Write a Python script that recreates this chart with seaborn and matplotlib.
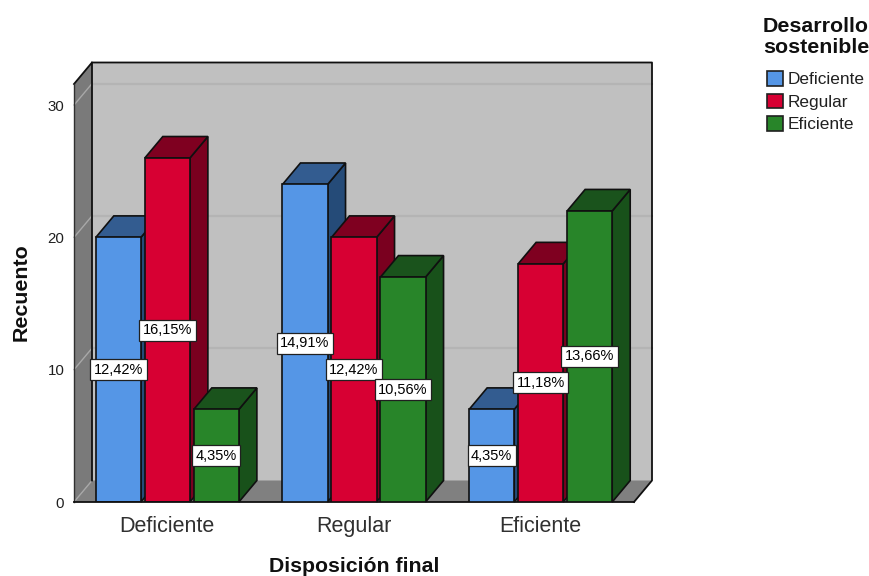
import matplotlib
matplotlib.use("Agg")
import matplotlib.pyplot as plt
from matplotlib.patches import Patch, Polygon
import pandas as pd
import seaborn as sns

categories = ["Deficiente", "Regular", "Eficiente"]
levels = ["Deficiente", "Regular", "Eficiente"]
counts_deficiente = [20, 24, 7]
counts_regular = [26, 20, 18]
counts_eficiente = [7, 17, 22]
pct_deficiente = ["12,42%", "14,91%", "4,35%"]
pct_regular = ["16,15%", "12,42%", "11,18%"]
pct_eficiente = ["4,35%", "10,56%", "13,66%"]
y_ticks = [0, 10, 20, 30]

front_colors = ["#5596E6", "#D70033", "#288529"]
side_colors = ["#254B78", "#7A001F", "#18511A"]
top_colors = ["#335C90", "#7F0020", "#1A531C"]
WALL = "#C0C0C0"
SIDE_WALL = "#7A7A7A"
FLOOR = "#808080"

W, H = 869, 576
sns.set_theme(style="white")
plt.rcParams["font.family"] = ["Liberation Sans", "DejaVu Sans"]

fig = plt.figure(figsize=(W / 100, H / 100), dpi=100)
ax = fig.add_axes([74 / W, 1 - 502 / H, 560 / W, 418 / H])

rows = []
for level, values in zip(levels, [counts_deficiente, counts_regular, counts_eficiente]):
    for cat, value in zip(categories, values):
        rows.append({"Disposición final": cat, "Desarrollo sostenible": level, "Recuento": value})
df = pd.DataFrame(rows)

sns.barplot(
    data=df, x="Disposición final", y="Recuento", hue="Desarrollo sostenible",
    order=categories, hue_order=levels, palette=front_colors,
    width=0.7875, gap=0.08, saturation=1, legend=False,
    edgecolor="#101010", linewidth=1.2, ax=ax,
)
ax.set_xlim(-0.5, 2.5)
ax.set_ylim(0, 418 / 13.23)
ax.patch.set_visible(False)
for side in ["top", "left", "right"]:
    ax.spines[side].set_visible(False)
ax.spines["bottom"].set_color("#101010")
ax.spines["bottom"].set_linewidth(1.3)
ax.spines["bottom"].set_zorder(1.5)

# Depth of the extruded scene, in data units of each axis
dx = 18 / (560 / 3)
dy = 21.5 / 13.23
x0, x1 = ax.get_xlim()
y0, y1 = ax.get_ylim()


def face(points, color, z, edge="none", lw=0.0):
    ax.add_patch(Polygon(points, closed=True, facecolor=color, edgecolor=edge,
                         linewidth=lw, zorder=z, clip_on=False, joinstyle="miter"))


def edge_line(xs, ys, color="#101010", lw=1.3, z=0.6):
    ax.plot(xs, ys, color=color, lw=lw, zorder=z, clip_on=False, solid_capstyle="projecting")


# Walls and floor behind the bars
face([(x0 + dx, y0 + dy), (x1 + dx, y0 + dy), (x1 + dx, y1 + dy), (x0 + dx, y1 + dy)], WALL, 0.1)
face([(x0, y0), (x0 + dx, y0 + dy), (x0 + dx, y1 + dy), (x0, y1)], SIDE_WALL, 0.1)
face([(x0, y0), (x1, y0), (x1 + dx, y0 + dy), (x0 + dx, y0 + dy)], FLOOR, 0.1)

for tick in y_ticks[1:]:
    ax.plot([x0 + dx, x1 + dx], [tick + dy, tick + dy], color="#B4B4B4", lw=1.6, zorder=0.2, clip_on=False)
for tick in y_ticks:
    ax.plot([x0, x0 + dx], [tick, tick + dy], color="#A8A8A8", lw=1.0, zorder=0.2, clip_on=False)

edge_line([x0 + dx, x1 + dx, x1 + dx, x1], [y1 + dy, y1 + dy, y0 + dy, y0])
edge_line([x0, x0 + dx, x0 + dx], [y1, y1 + dy, y0 + dy])
edge_line([x0, x0], [y0, y1], color="#303030", lw=1.0)

# Extrude every bar, stacking later bars over the side faces of earlier ones
labels_by_level = [pct_deficiente, pct_regular, pct_eficiente]
for h, container in enumerate(ax.containers):
    for c, bar in enumerate(container.patches):
        base = 1 + c + h * 0.1
        bar.set_zorder(base + 0.02)
        left, width, height = bar.get_x(), bar.get_width(), bar.get_height()
        right = left + width
        face([(right, 0), (right + dx, dy), (right + dx, height + dy), (right, height)],
             side_colors[h], base, "#101010", 1.2)
        face([(left, height), (left + dx, height + dy), (right + dx, height + dy), (right, height)],
             top_colors[h], base, "#101010", 1.2)
        ax.text(left + width / 2, height / 2, labels_by_level[h][c], ha="center", va="center",
                fontsize=10.5, color="black", zorder=10,
                bbox=dict(boxstyle="square,pad=0.24", facecolor="white", edgecolor="#202020", linewidth=0.9))

ax.set_yticks(y_ticks)
ax.set_yticklabels([str(t) for t in y_ticks], fontsize=10.8, color="#202020")
ax.tick_params(axis="y", length=0, pad=7)
ax.tick_params(axis="x", length=0, pad=10, labelsize=15.5, labelcolor="#303030")

ax.set_xlabel("Disposición final", fontsize=15.3, fontweight="bold", color="#101010", va="center")
ax.xaxis.set_label_coords(0.5, (502 - 567) / 418)
ax.set_ylabel("Recuento", fontsize=15.4, fontweight="bold", color="#101010", va="center")
ax.yaxis.set_label_coords((21 - 74) / 560, 0.503)

# Legend panel to the right of the plot
fig.text(763 / W, 1 - 37 / H, "Desarrollo\nsostenible", fontsize=15.4, fontweight="bold",
         color="#101010", ha="left", va="center", linespacing=1.18)
handles = [Patch(facecolor=col, edgecolor="#202020", linewidth=1.2, label=lab)
           for col, lab in zip(front_colors, levels)]
fig.legend(handles=handles, loc="upper left", bbox_to_anchor=(767 / W, 1 - 71 / H),
           frameon=False, fontsize=12.4, labelcolor="#202020", borderpad=0, borderaxespad=0,
           handlelength=0.95, handleheight=0.95, handletextpad=0.26, labelspacing=0.36)

fig.savefig("out.png", dpi=100, facecolor="white")
